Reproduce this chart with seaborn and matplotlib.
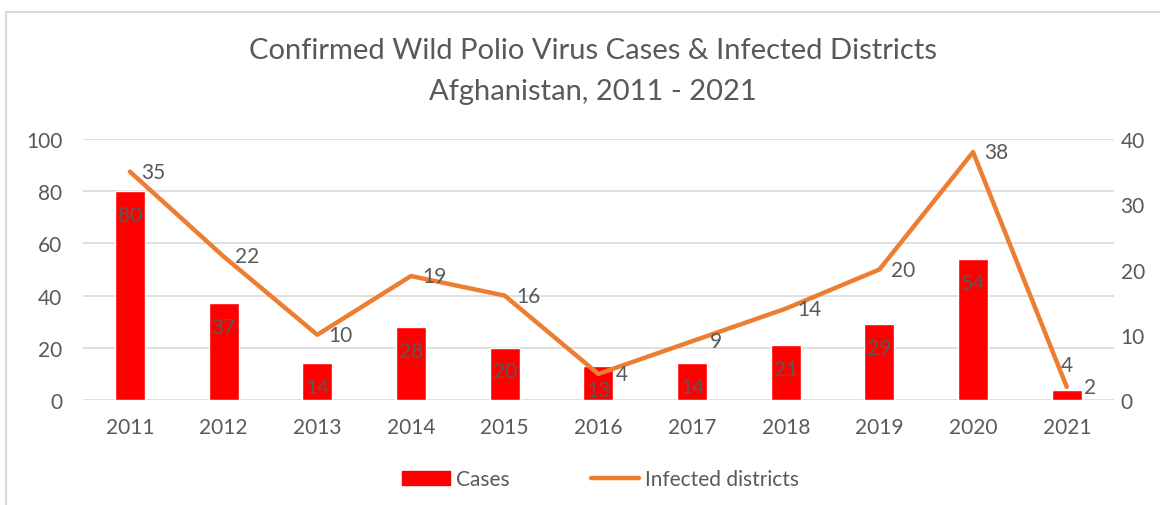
import numpy as np
import pandas as pd
import matplotlib
matplotlib.use("Agg")
import matplotlib.pyplot as plt
from matplotlib.patches import Rectangle
from matplotlib.lines import Line2D
import seaborn as sns

# data
years = ["2011", "2012", "2013", "2014", "2015", "2016", "2017", "2018", "2019", "2020", "2021"]
cases = [80, 37, 14, 28, 20, 13, 14, 21, 29, 54, 4]
districts = [35, 22, 10, 19, 16, 4, 9, 14, 20, 38, 2]

bar_color = "#FF0000"
line_color = "#ED7D31"
text_color = "#595959"
grid_color = "#D9D9D9"

sns.set_style("white")
plt.rcParams["font.family"] = ["Lato", "DejaVu Sans"]

df = pd.DataFrame({"year": years, "cases": cases, "districts": districts,
                   "pos": np.arange(len(years))})

fig = plt.figure(figsize=(11.6, 5.06), dpi=100)
ax = fig.add_axes([0.0716, 0.2075, 0.8884, 0.5158])

sns.barplot(data=df, x="year", y="cases", color=bar_color, width=0.32,
            saturation=1, ax=ax, zorder=2)
ax.set_ylim(0, 100)
ax.set_yticks(range(0, 101, 20))
ax.set_xlim(-0.5, len(years) - 0.5)
ax.grid(axis="y", color=grid_color, linewidth=1.2, zorder=0)
ax.set_axisbelow(True)
for s in ax.spines.values():
    s.set_visible(False)
ax.set_xlabel("")
ax.set_ylabel("")
ax.tick_params(axis="both", length=0, labelsize=15, colors=text_color, pad=12)
ax.tick_params(axis="y", pad=15)

# bar labels (inside end)
for i, v in enumerate(cases):
    if v < 8:
        ax.annotate(str(v), (i, v), xytext=(0, 18), textcoords="offset points",
                    ha="center", va="center", fontsize=15, color=text_color)
    else:
        ax.annotate(str(v), (i, v), xytext=(0, -17), textcoords="offset points",
                    ha="center", va="center", fontsize=15, color=text_color)

ax2 = ax.twinx()
sns.lineplot(data=df, x="pos", y="districts", color=line_color, linewidth=3.2,
             ax=ax2, zorder=3)
ax2.set_ylim(0, 40)
ax2.set_yticks(range(0, 41, 10))
ax2.set_xlim(-0.5, len(years) - 0.5)
for s in ax2.spines.values():
    s.set_visible(False)
ax2.set_xlabel("")
ax2.set_ylabel("")
ax2.tick_params(axis="y", length=0, labelsize=15, colors=text_color, pad=5)

for i, v in enumerate(districts):
    ax2.annotate(str(v), (i, v), xytext=(17, 0), textcoords="offset points",
                 ha="center", va="center", fontsize=15, color=text_color)

fig.text(0.511, 0.9, "Confirmed Wild Polio Virus Cases & Infected Districts",
         ha="center", va="center", fontsize=21, color=text_color)
fig.text(0.511, 0.818, "Afghanistan, 2011 - 2021",
         ha="center", va="center", fontsize=21, color=text_color)

handles = [Rectangle((0, 0), 1, 1, color=bar_color),
           Line2D([0], [0], color=line_color, linewidth=3.2)]
fig.legend(handles, ["Cases", "Infected districts"], loc="center",
           bbox_to_anchor=(0.518, 0.051), ncol=2, frameon=False, fontsize=15,
           labelcolor=text_color, handlelength=2.3, handletextpad=0.3,
           columnspacing=3.9)

# chart area border
fig.patches.append(Rectangle((0.005, -0.01), 1.1, 0.984, transform=fig.transFigure,
                             fill=False, edgecolor="#D9D9D9", linewidth=1.5))

fig.savefig("out.png", dpi=100)
